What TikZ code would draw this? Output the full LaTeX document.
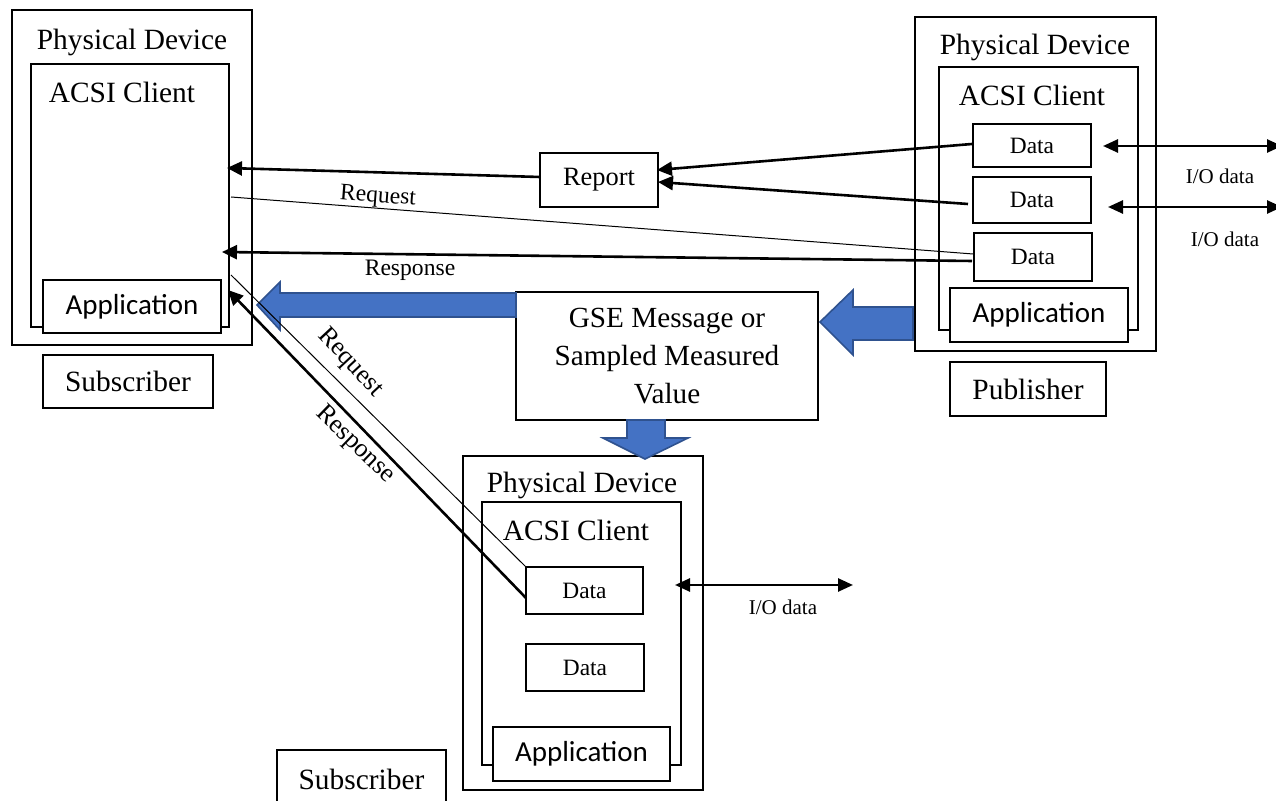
\documentclass[tikz,border=0pt]{standalone}
\usepackage{fontspec}
\setmainfont{Liberation Serif}
\newfontfamily\appfont{Carlito}
\usetikzlibrary{arrows.meta,calc}
\definecolor{arrowblue}{HTML}{4472C4}
\definecolor{arrowedge}{HTML}{2F528F}
\begin{document}
\begin{tikzpicture}[x=0.5pt,y=-0.5pt,
  box/.style={draw, fill=white, line width=0.6pt, inner sep=0pt, outer sep=0pt},
  bigfont/.style={font=\fontsize{14.7}{17}\selectfont},
  title/.style={bigfont, inner sep=0pt},
  datab/.style={box, font=\fontsize{11.7}{14}\selectfont},
  appb/.style={box, font=\appfont\fontsize{14.5}{17}\selectfont},
  lbl/.style={font=\fontsize{11.8}{14}\selectfont, inner sep=0pt},
  dlbl/.style={font=\fontsize{13}{15}\selectfont, inner sep=0pt},
  iolbl/.style={font=\fontsize{10.5}{12}\selectfont, inner sep=0pt},
  conn/.style={line width=1.3pt, -{Triangle[length=7.5pt,width=7pt]}},
  ioconn/.style={line width=1.3pt, {Triangle[length=7.5pt,width=6.5pt]}-{Triangle[length=7.5pt,width=6.5pt]}},
  thinline/.style={line width=0.5pt},
  bluearrow/.style={fill=arrowblue, draw=arrowedge, line width=0.8pt},
  sz/.style 2 args={minimum width=#1pt, minimum height=#2pt}
]
\useasboundingbox (0,0) rectangle (1276,801);

% ---------- left device (subscriber) ----------
\node[box, sz={120}{167.5}] (lpd) at (132,177.5) {};
\node[title] (lpdt) at (132,42) {Physical Device};
\node[box, sz={99}{131.5}] (lacsi) at (130,195.5) {};
\node[title] (lacsit) at (122,92) {ACSI Client};
\node[appb, sz={89}{26.5}] (lapp) at (132,306.5) {Application};
\node[box, bigfont, sz={85}{26.5}] (lsub) at (128,381.5) {Subscriber};

% ---------- right device (publisher) ----------
\node[box, sz={120.5}{167}] (rpd) at (1035.5,184) {};
\node[title] (rpdt) at (1035,47) {Physical Device};
\node[box, sz={99.5}{131.5}] (racsi) at (1038.5,198.5) {};
\node[title] (racsit) at (1032,95) {ACSI Client};
\node[datab, sz={59}{21.5}] (rd1) at (1032,145.5) {Data};
\node[datab, sz={59}{23}] (rd2) at (1032,200) {Data};
\node[datab, sz={59}{24}] (rd3) at (1033,257) {Data};
\node[appb, sz={89}{27}] (rapp) at (1039,315) {Application};
\node[box, bigfont, sz={78}{27}] (pub) at (1028,389) {Publisher};

% ---------- middle ----------
\node[box, font=\fontsize{13.2}{15}\selectfont, sz={59}{27}] (report) at (599,180) {Report};
\node[box, align=center, font=\fontsize{14.6}{19.2}\selectfont, sz={151}{64}] (gse) at (667,356) {GSE Message or\\Sampled Measured\\Value};

% ---------- bottom device ----------
\node[box, sz={120}{167}] (bpd) at (583,623) {};
\node[title] (bpdt) at (582,485) {Physical Device};
\node[box, sz={99.5}{131.5}] (bacsi) at (581.5,633.5) {};
\node[title] (bacsit) at (576,530) {ACSI Client};
\node[datab, sz={58.5}{23.5}] (bd1) at (584.5,590.5) {Data};
\node[datab, sz={59}{23.5}] (bd2) at (585,667.5) {Data};
\node[appb, sz={88.5}{27}] (bapp) at (581.5,754) {Application};
\node[box, bigfont, sz={84.5}{29}] (bsub) at (361.5,779) {Subscriber};

% ---------- blue block arrows ----------
\draw[bluearrow] (516,293) -- (280,293) -- (280,282) -- (257,305) -- (280,330) -- (280,317) -- (516,317) -- cycle;
\draw[bluearrow] (913,307) -- (853,307) -- (853,290) -- (820,322) -- (853,355) -- (853,340) -- (913,340) -- cycle;
\draw[bluearrow] (627,420) -- (627,438) -- (603,438) -- (645,459) -- (688,438) -- (665,438) -- (665,420) -- cycle;

% ---------- connector end points ----------
\coordinate (rd1out) at (972,144);
\coordinate (rd2out) at (968,204);
\coordinate (rep1in) at (657,170);
\coordinate (rep2in) at (658,182);
\coordinate (repout) at (540,177);
\coordinate (lin1) at (227,168);
\coordinate (lreqout) at (231,197);
\coordinate (rd3req) at (973,254);
\coordinate (rd3resp) at (972,261);
\coordinate (lin2) at (222,252);
\coordinate (ldreq) at (231,275);
\coordinate (bd1resp) at (526,598);
\coordinate (lin3) at (228,290);
\coordinate (io1a) at (1103,146);
\coordinate (io1b) at (1282,146);
\coordinate (io2a) at (1108,207);
\coordinate (io2b) at (1282,207);
\coordinate (io3a) at (675,585);
\coordinate (io3b) at (853,585);

% ---------- connectors ----------
\draw[conn] (rd1out) -- (rep1in);
\draw[conn] (rd2out) -- (rep2in);
\draw[conn] (repout) -- (lin1);
\draw[thinline] (lreqout) -- (rd3req);
\draw[conn] (rd3resp) -- (lin2);
\draw[thinline] (ldreq) -- (bd1.north west);
\draw[conn] (bd1resp) -- (lin3);
\draw[ioconn] (io1a) -- (io1b);
\draw[ioconn] (io2a) -- (io2b);
\draw[ioconn] (io3a) -- (io3b);

% ---------- labels ----------
\node[lbl, rotate=-4.3] (reqlbl) at (378,197) {Request};
\node[lbl] (resplbl) at (410,270) {Response};
\node[dlbl, rotate=-47] (dreqlbl) at (350,363) {Request};
\node[dlbl, rotate=-44] (dresplbl) at (355,445) {Response};
\node[iolbl] (io1lbl) at (1220,176) {I/O data};
\node[iolbl] (io2lbl) at (1225,239) {I/O data};
\node[iolbl] (io3lbl) at (783,607) {I/O data};
\end{tikzpicture}
\end{document}
